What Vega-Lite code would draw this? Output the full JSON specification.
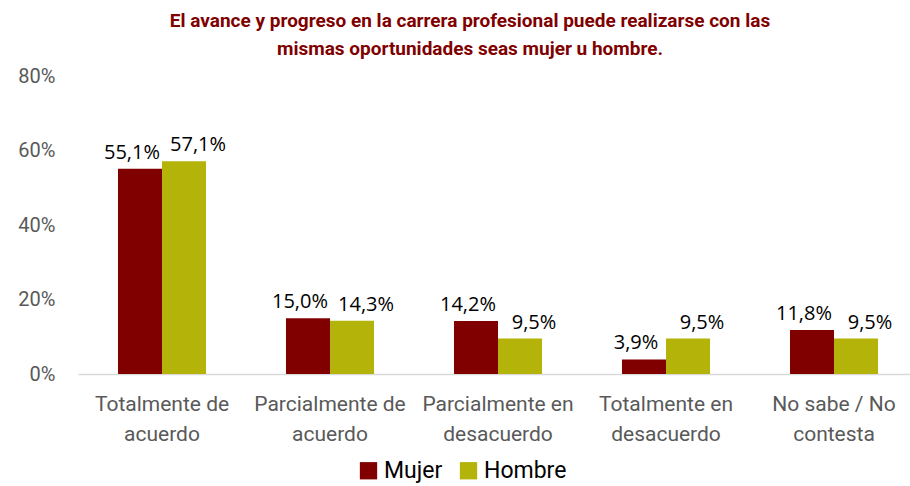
{
  "$schema": "https://vega.github.io/schema/vega-lite/v6.json",
  "autosize": {"type": "none"},
  "padding": {"left": 78, "top": 76, "right": 0, "bottom": 112},
  "width": 840,
  "height": 298,
  "background": "white",
  "config": {
    "locale": {"number": {"decimal": ",", "thousands": ".", "grouping": [3], "currency": ["", " €"]}},
    "view": {"stroke": null}
  },
  "title": {
    "text": ["El avance y progreso en la carrera profesional puede realizarse con las", "mismas oportunidades seas mujer u hombre."],
    "font": "Roboto",
    "fontSize": 19,
    "fontWeight": "bold",
    "color": "#800000",
    "lineHeight": 28,
    "anchor": "middle",
    "dx": -28,
    "offset": 7
  },
  "data": {
    "values": [
      {"cat": "Totalmente de acuerdo", "sexo": "Mujer", "v": 0.551},
      {"cat": "Totalmente de acuerdo", "sexo": "Hombre", "v": 0.571},
      {"cat": "Parcialmente de acuerdo", "sexo": "Mujer", "v": 0.150},
      {"cat": "Parcialmente de acuerdo", "sexo": "Hombre", "v": 0.143},
      {"cat": "Parcialmente en desacuerdo", "sexo": "Mujer", "v": 0.142},
      {"cat": "Parcialmente en desacuerdo", "sexo": "Hombre", "v": 0.095},
      {"cat": "Totalmente en desacuerdo", "sexo": "Mujer", "v": 0.039},
      {"cat": "Totalmente en desacuerdo", "sexo": "Hombre", "v": 0.095},
      {"cat": "No sabe / No contesta", "sexo": "Mujer", "v": 0.118},
      {"cat": "No sabe / No contesta", "sexo": "Hombre", "v": 0.095}
    ]
  },
  "encoding": {
    "x": {
      "field": "cat", "type": "nominal", "sort": null,
      "scale": {"paddingInner": 0.476, "paddingOuter": 0.238},
      "axis": {
        "title": null, "labelAngle": 0, "ticks": false,
        "domainColor": "#D9D9D9", "domainWidth": 1.5,
        "labelFont": "Roboto", "labelFontSize": 21, "labelColor": "#595959",
        "labelLineHeight": 30, "labelPadding": 19, "labelBaseline": "top",
        "labelOverlap": false,
        "labelExpr": "[slice(datum.value, 0, lastindexof(datum.value, ' ')), slice(datum.value, lastindexof(datum.value, ' ') + 1)]"
      }
    },
    "xOffset": {"field": "sexo", "type": "nominal", "sort": ["Mujer", "Hombre"], "scale": {"paddingInner": 0, "paddingOuter": 0}},
    "y": {
      "field": "v", "type": "quantitative",
      "scale": {"domain": [0, 0.8]},
      "axis": {
        "title": null, "format": ".0%", "values": [0, 0.2, 0.4, 0.6, 0.8],
        "grid": false, "domain": false, "ticks": false, "labelOverlap": false,
        "labelFont": "Roboto", "labelFontSize": 20, "labelColor": "#595959",
        "labelPadding": 23
      }
    }
  },
  "layer": [
    {
      "mark": {"type": "bar"},
      "encoding": {
        "color": {
          "field": "sexo", "type": "nominal", "sort": ["Mujer", "Hombre"],
          "scale": {"domain": ["Mujer", "Hombre"], "range": ["#800000", "#B3B30A"]},
          "legend": {
            "title": null, "orient": "none", "direction": "horizontal",
            "legendX": 279, "legendY": 383,
            "symbolType": "square", "symbolSize": 300, "symbolStrokeWidth": 0,
            "labelFont": "Roboto", "labelFontSize": 23, "labelColor": "#000000",
            "columnPadding": 14, "labelOffset": 4
          }
        }
      }
    },
    {
      "transform": [{"filter": "datum.sexo == 'Mujer'"}],
      "mark": {"type": "text", "baseline": "bottom", "dy": -6, "dx": -8, "font": "Open Sans", "fontSize": 20, "color": "#000000"},
      "encoding": {
        "text": {"field": "v", "type": "quantitative", "format": ".1%"}
      }
    },
    {
      "transform": [{"filter": "datum.sexo == 'Hombre'"}],
      "mark": {"type": "text", "baseline": "bottom", "dy": -6, "dx": 14, "font": "Open Sans", "fontSize": 20, "color": "#000000"},
      "encoding": {
        "text": {"field": "v", "type": "quantitative", "format": ".1%"}
      }
    }
  ]
}
